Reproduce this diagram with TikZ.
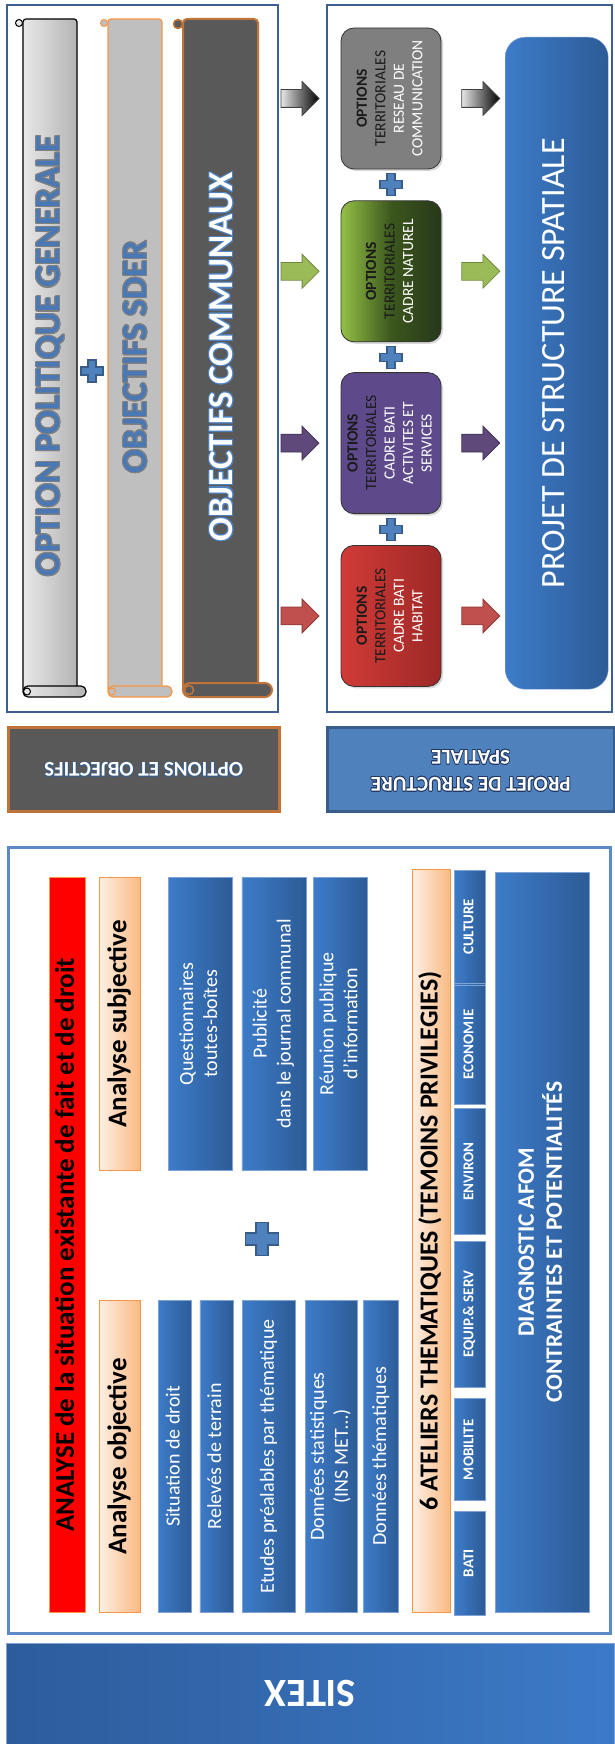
\documentclass[tikz,border=0pt]{standalone}
\usepackage{fontspec}
\setmainfont{Carlito}
\usepackage{graphicx}
\usepackage[copies]{contour}
\usetikzlibrary{positioning,shapes.arrows,shadows}

\definecolor{frameblue}{HTML}{3C5E91}
\definecolor{framelight}{HTML}{5B8AC6}
\definecolor{barL}{HTML}{3D7CC9}
\definecolor{barD}{HTML}{2D5B96}
\definecolor{barline}{HTML}{7FA3D4}
\definecolor{peachL}{HTML}{FDEFE3}
\definecolor{peachD}{HTML}{FAB981}
\definecolor{peachline}{HTML}{F79646}
\definecolor{plusfill}{HTML}{4F81BD}
\definecolor{plusline}{HTML}{385D8A}
\definecolor{projblue}{HTML}{4F81BD}
\definecolor{darkgrey}{HTML}{595959}
\definecolor{brownline}{HTML}{C0743A}
\definecolor{titleblue}{HTML}{4A78B4}
\definecolor{darktxt}{HTML}{1A1A1A}
\definecolor{scrollL}{HTML}{E8E8E8}
\definecolor{scrollD}{HTML}{B4B4B4}
\definecolor{scrollmid}{HTML}{BFBFBF}
\definecolor{greyopt}{HTML}{7F7F7F}
\definecolor{greenL}{HTML}{93C047}
\definecolor{greenM}{HTML}{3C571D}
\definecolor{greenD}{HTML}{27381A}
\definecolor{purpleopt}{HTML}{5E4A8A}
\definecolor{redL}{HTML}{D13B37}
\definecolor{redD}{HTML}{9C2826}
\definecolor{sitexL}{HTML}{2D5C9B}
\definecolor{sitexR}{HTML}{3C7AC8}
\definecolor{navytxt}{HTML}{1F3864}
\definecolor{arrowgreen}{HTML}{9BBB59}
\definecolor{arrowgreenD}{HTML}{71893F}
\definecolor{arrowpurple}{HTML}{5F497A}
\definecolor{arrowpurpleD}{HTML}{3F3151}
\definecolor{arrowred}{HTML}{C0504D}
\definecolor{arrowredD}{HTML}{8C3836}

\tikzstyle{frame}=[draw=frameblue, line width=2.5pt]
\tikzstyle{bluebar}=[draw=barline, line width=0.6pt, left color=barL, right color=barD,
    text=white, inner sep=0pt, anchor=north west, font=\fontsize{20}{24}\selectfont]
\tikzstyle{smallbar}=[bluebar, font=\bfseries\fontsize{15}{18}\selectfont]
\tikzstyle{peachbar}=[draw=peachline, line width=1pt, left color=peachL, right color=peachD,
    inner sep=0pt, anchor=north west, font=\bfseries\fontsize{27}{32}\selectfont]
\tikzstyle{optbox}=[rounded corners=13pt, draw=black!80, line width=0.8pt,
    minimum width=100pt, minimum height=141pt, inner sep=0pt,
    drop shadow={shadow xshift=2pt, shadow yshift=-2pt, opacity=0.3},
    text=white, font=\fontsize{15.5}{18.5}\selectfont]
\tikzstyle{blockarrow}=[single arrow, single arrow head extend=8pt, inner sep=8.5pt,
    minimum height=38pt, line width=0.8pt]
\tikzstyle{scrolltext}=[rotate=90, inner sep=0pt, font=\bfseries\fontsize{35}{40}\selectfont]

\tikzset{
    sz/.style 2 args={minimum width=#1pt, minimum height=#2pt},
    plussign/.pic={
        \filldraw[fill=plusfill, draw=plusline, line width=1.2pt]
            (-4,-11) -- (4,-11) -- (4,-4) -- (11,-4) -- (11,4) -- (4,4) -- (4,11)
            -- (-4,11) -- (-4,4) -- (-11,4) -- (-11,-4) -- (-4,-4) -- cycle;
    }
}

\newcommand{\vlines}[1]{\rotatebox{90}{\begin{tabular}{@{}c@{}}#1\end{tabular}}}

\begin{document}
\begin{tikzpicture}[x=1pt,y=-1pt]
\useasboundingbox (0,0) rectangle (614,1744);
\fill[white] (0,0) rectangle (614,1744);

% options et objectifs
\draw[frame] (7,5) rectangle (278,712);
\shade[left color=scrollL, right color=scrollD, draw=black, line width=1.2pt, rounded corners=3pt]
    (23,690) -- (23,19) -- (77,19) -- (77,690);
\shade[left color=scrollL, right color=scrollD, draw=black, line width=1.2pt, rounded corners=5pt]
    (23,686) rectangle (86,697);
\draw[black, line width=1pt] (27,691.5) circle (3.5);
\filldraw[fill=scrollL, draw=black, line width=1pt] (19,23) circle (3.5);

\filldraw[fill=scrollmid, draw=peachline, line width=1.2pt, rounded corners=3pt]
    (108,690) -- (108,19) -- (162,19) -- (162,690);
\filldraw[fill=scrollmid, draw=peachline, line width=1.2pt, rounded corners=5pt]
    (108,686) rectangle (172,697);
\draw[peachline, line width=1pt] (112,691.5) circle (3.5);
\filldraw[fill=scrollmid, draw=peachline, line width=1pt] (104,23) circle (3.5);

\filldraw[fill=darkgrey, draw=brownline, line width=2pt, rounded corners=4pt]
    (183,690) -- (183,19) -- (258,19) -- (258,690);
\filldraw[fill=darkgrey, draw=brownline, line width=2pt, rounded corners=7pt]
    (183,683) rectangle (272,697);
\draw[brownline, line width=1.5pt] (189,690) circle (4.5);
\filldraw[fill=darkgrey, draw=brownline, line width=1.5pt] (178,24) circle (4.5);

\node[scrolltext, text=titleblue] (politique) at (51,356)
    {\contourlength{1.1pt}\contour{gray}{OPTION POLITIQUE GENERALE}};
\node[scrolltext, text=titleblue] (sder) at (136,357)
    {\contourlength{1.1pt}\contour{gray}{OBJECTIFS SDER}};
\node[scrolltext, text=white] (communaux) at (222,357)
    {\contourlength{1.1pt}\contour{plusfill}{OBJECTIFS COMMUNAUX}};
\pic at (92,371) {plussign};

% options territoriales
\draw[frame] (327,5) rectangle (612,712);
\node[optbox, fill=greyopt] (optgrey) at (391,98.5)
    {\vlines{\textcolor{darktxt}{\bfseries OPTIONS}\\\textcolor{darktxt}{TERRITORIALES}\\RESEAU DE\\COMMUNICATION}};
\node[optbox, left color=greenL, right color=greenD, middle color=greenM, below=31pt of optgrey] (optgreen)
    {\vlines{\textcolor{darktxt}{\bfseries OPTIONS}\\\textcolor{darktxt}{TERRITORIALES}\\CADRE NATUREL}};
\node[optbox, fill=purpleopt, below=30pt of optgreen] (optpurple)
    {\vlines{\textcolor{darktxt}{\bfseries OPTIONS}\\\textcolor{darktxt}{TERRITORIALES}\\CADRE BATI\\ACTIVITES ET\\SERVICES}};
\node[optbox, left color=redL, right color=redD, below=31pt of optpurple] (optred)
    {\vlines{\textcolor{darktxt}{\bfseries OPTIONS}\\\textcolor{darktxt}{TERRITORIALES}\\CADRE BATI\\HABITAT}};

\path (optgrey.south) -- (optgreen.north) coordinate[midway] (plusA);
\path (optgreen.south) -- (optpurple.north) coordinate[midway] (plusB);
\path (optpurple.south) -- (optred.north) coordinate[midway] (plusC);
\pic at (plusA) {plussign};
\pic at (plusB) {plussign};
\pic at (plusC) {plussign};

\node[blockarrow, left color=gray!20, right color=black, draw=black!75, left=21pt of optgrey] (ingrey) {};
\node[blockarrow, fill=arrowgreen, draw=arrowgreenD, left=21pt of optgreen] (ingreen) {};
\node[blockarrow, fill=arrowpurple, draw=arrowpurpleD, left=21pt of optpurple] (inpurple) {};
\node[blockarrow, fill=arrowred, draw=arrowredD, left=21pt of optred] (inred) {};
\node[blockarrow, left color=gray!20, right color=black, draw=black!75, right=20pt of optgrey] (outgrey) {};
\node[blockarrow, fill=arrowgreen, draw=arrowgreenD, right=20pt of optgreen] (outgreen) {};
\node[blockarrow, fill=arrowpurple, draw=arrowpurpleD, right=20pt of optpurple] (outpurple) {};
\node[blockarrow, fill=arrowred, draw=arrowredD, right=20pt of optred] (outred) {};

\node[anchor=north west, sz={103}{652}, rounded corners=20pt, left color=barL, right color=barD,
    draw=barline, inner sep=0pt, text=white, font=\fontsize{34}{40}\selectfont] (projet) at (505,37)
    {\vlines{PROJET DE STRUCTURE SPATIALE}};

% bandeaux
\node[anchor=north west, sz={271}{84}, fill=darkgrey, draw=brownline, line width=2.5pt, inner sep=0pt,
    text=white, font=\bfseries\fontsize{21}{27}\selectfont] (optobj) at (7,726)
    {\rotatebox{180}{\contourlength{0.7pt}\contour{plusline}{OPTIONS ET OBJECTIFS}}};
\node[anchor=north west, sz={287}{84}, fill=projblue, draw=plusline, line width=2.5pt, inner sep=0pt,
    text=white, font=\bfseries\fontsize{21}{27}\selectfont] (projband) at (326,726)
    {\rotatebox{180}{\contourlength{0.7pt}\begin{tabular}{@{}c@{}}\contour{navytxt}{PROJET DE STRUCTURE}\\\contour{navytxt}{SPATIALE}\end{tabular}}};

% analyse
\draw[line width=3pt, draw=framelight] (8,847) rectangle (610,1633);
\node[anchor=north west, sz={36}{735}, fill=red, draw=peachline, line width=1pt, inner sep=0pt,
    font=\bfseries\fontsize{27}{32}\selectfont] (analyse) at (49,877)
    {\vlines{ANALYSE de la situation existante de fait et de droit}};
\node[peachbar, sz={41}{293}] (anasubj) at (99,877) {\vlines{Analyse subjective}};
\node[peachbar, sz={41}{312}] (anaobj) at (99,1300) {\vlines{Analyse objective}};

\node[bluebar, sz={64}{293}] (quest) at (168,877) {\vlines{Questionnaires\\toutes-boîtes}};
\node[bluebar, sz={64}{293}, right=9pt of quest] (pub) {\vlines{Publicité\\dans le journal communal}};
\node[bluebar, sz={54}{293}, right=7pt of pub] (reunion) {\vlines{Réunion publique\\d’information}};

\node[bluebar, sz={33}{312}] (situation) at (158,1300) {\vlines{Situation de droit}};
\node[bluebar, sz={33}{312}, right=8pt of situation] (releves) {\vlines{Relevés de terrain}};
\node[bluebar, sz={53}{312}, right=9pt of releves] (etudes) {\vlines{Etudes préalables par thématique}};
\node[bluebar, sz={52}{312}, right=9pt of etudes] (stats) {\vlines{Données statistiques\\(INS MET…)}};
\node[bluebar, sz={35}{312}, right=6pt of stats] (donth) {\vlines{Données thématiques}};
\pic[scale=1.5] at (262,1239) {plussign};

% ateliers
\node[peachbar, sz={38}{743}, font=\bfseries\fontsize{26}{30}\selectfont] (ateliers) at (412,869)
    {\vlines{6 ATELIERS THEMATIQUES (TEMOINS PRIVILEGIES)}};
\node[smallbar, sz={31}{113}] (culture) at (454,870) {\vlines{CULTURE}};
\node[smallbar, sz={31}{119}, below=1pt of culture] (economie) {\vlines{ECONOMIE}};
\node[smallbar, sz={31}{126}, below=4pt of economie] (environ) {\vlines{ENVIRON}};
\node[smallbar, sz={31}{146}, below=6pt of environ] (equip) {\vlines{EQUIP.\& SERV}};
\node[smallbar, sz={31}{102}, below=11pt of equip] (mobilite) {\vlines{MOBILITE}};
\node[smallbar, sz={31}{104}, below=10pt of mobilite] (bati) {\vlines{BATI}};
\node[bluebar, sz={94}{740}, font=\bfseries\fontsize{23.5}{28}\selectfont] (diagnostic) at (495,872)
    {\vlines{DIAGNOSTIC AFOM\\CONTRAINTES ET POTENTIALITÉS}};

% sitex
\node[anchor=north west, sz={608}{101}, left color=sitexL, right color=sitexR, draw=barline,
    line width=0.8pt, inner sep=0pt, text=white, font=\bfseries\fontsize{40}{46}\selectfont] (sitex) at (6,1643)
    {\rotatebox{180}{SITEX}};
\end{tikzpicture}
\end{document}
